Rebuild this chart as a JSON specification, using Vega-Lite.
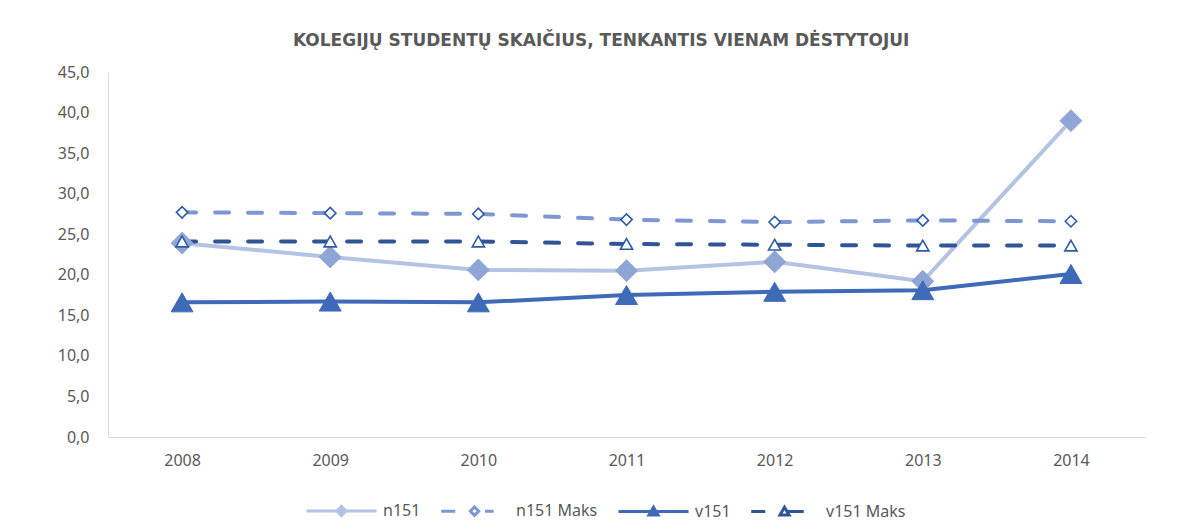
{
  "$schema": "https://vega.github.io/schema/vega-lite/v6.json",
  "width": 1037,
  "height": 365,
  "autosize": {"type": "none"},
  "padding": {"left": 108, "top": 72, "right": 35, "bottom": 92},
  "background": "white",
  "title": {
    "text": "KOLEGIJŲ STUDENTŲ SKAIČIUS, TENKANTIS VIENAM DĖSTYTOJUI",
    "font": "DejaVu Sans",
    "fontSize": 17,
    "fontWeight": "bold",
    "color": "#595959",
    "anchor": "middle",
    "frame": "bounds",
    "offset": 14
  },
  "data": {
    "values": [
      {"year": "2008", "series": "n151", "value": 23.9},
      {"year": "2009", "series": "n151", "value": 22.2},
      {"year": "2010", "series": "n151", "value": 20.6},
      {"year": "2011", "series": "n151", "value": 20.5},
      {"year": "2012", "series": "n151", "value": 21.6},
      {"year": "2013", "series": "n151", "value": 19.2},
      {"year": "2014", "series": "n151", "value": 39.0},
      {"year": "2008", "series": "n151 Maks", "value": 27.7},
      {"year": "2009", "series": "n151 Maks", "value": 27.6},
      {"year": "2010", "series": "n151 Maks", "value": 27.5},
      {"year": "2011", "series": "n151 Maks", "value": 26.8},
      {"year": "2012", "series": "n151 Maks", "value": 26.5},
      {"year": "2013", "series": "n151 Maks", "value": 26.7},
      {"year": "2014", "series": "n151 Maks", "value": 26.6},
      {"year": "2008", "series": "v151", "value": 16.6},
      {"year": "2009", "series": "v151", "value": 16.7},
      {"year": "2010", "series": "v151", "value": 16.6},
      {"year": "2011", "series": "v151", "value": 17.5},
      {"year": "2012", "series": "v151", "value": 17.9},
      {"year": "2013", "series": "v151", "value": 18.1},
      {"year": "2014", "series": "v151", "value": 20.1},
      {"year": "2008", "series": "v151 Maks", "value": 24.1},
      {"year": "2009", "series": "v151 Maks", "value": 24.1},
      {"year": "2010", "series": "v151 Maks", "value": 24.1},
      {"year": "2011", "series": "v151 Maks", "value": 23.8},
      {"year": "2012", "series": "v151 Maks", "value": 23.7},
      {"year": "2013", "series": "v151 Maks", "value": 23.6},
      {"year": "2014", "series": "v151 Maks", "value": 23.6}
    ]
  },
  "encoding": {
    "x": {
      "field": "year",
      "type": "ordinal",
      "scale": {"type": "point", "padding": 0.5},
      "axis": {
        "title": null,
        "labelAngle": 0,
        "labelFont": "Noto Sans",
        "labelFontSize": 16,
        "labelColor": "#595959",
        "labelPadding": 15,
        "ticks": false,
        "domainColor": "#d9d9d9",
        "domainWidth": 1
      }
    },
    "y": {
      "field": "value",
      "type": "quantitative",
      "scale": {"domain": [0, 45], "nice": false, "zero": true},
      "axis": {
        "title": null,
        "values": [0, 5, 10, 15, 20, 25, 30, 35, 40, 45],
        "labelExpr": "replace(format(datum.value, '.1f'), '.', ',')",
        "labelFont": "Noto Sans",
        "labelFontSize": 16,
        "labelColor": "#595959",
        "labelPadding": 19,
        "ticks": false,
        "grid": false,
        "domainColor": "#d9d9d9",
        "domainWidth": 1
      }
    }
  },
  "layer": [
    {
      "transform": [{"filter": "datum.series === 'n151' || datum.series === 'v151'"}],
      "mark": {"type": "line", "strokeWidth": 4, "strokeCap": "round", "strokeJoin": "round"},
      "encoding": {
        "color": {
          "field": "series",
          "type": "nominal",
          "scale": {
            "domain": ["n151", "n151 Maks", "v151", "v151 Maks"],
            "range": ["#b4c2e3", "#7d97d3", "#3f6ab8", "#2f5597"]
          },
          "legend": {
            "title": null,
            "orient": "none",
            "direction": "horizontal",
            "columns": 4,
            "legendX": 197,
            "legendY": 402,
            "symbolSize": 4900,
            "symbolStrokeWidth": 3,
            "labelFont": "Noto Sans",
            "labelFontSize": 16,
            "labelColor": "#595959",
            "labelOffset": 5,
            "columnPadding": 14,
            "encode": {
              "symbols": {
                "update": {
                  "shape": {"signal": "datum.value === 'n151' ? 'M-1,0L1,0M0,-0.13L0.13,0L0,0.13L-0.13,0Z' : datum.value === 'n151 Maks' ? 'M-0.95,0L-0.55,0M0.3,0L0.55,0M0,-0.12L0.12,0L0,0.12L-0.12,0Z' : datum.value === 'v151' ? 'M-1,0L1,0M0,-0.12L0.13,0.1L-0.13,0.1Z' : 'M-0.95,0L-0.55,0M0.05,0L0.55,0M0,-0.12L0.13,0.1L-0.13,0.1Z'"},
                  "fill": {"signal": "datum.value === 'n151' ? '#8fa5d6' : datum.value === 'v151' ? '#3f6ab8' : 'white'"},
                  "stroke": {"signal": "datum.value === 'n151' ? '#b4c2e3' : datum.value === 'n151 Maks' ? '#7d97d3' : datum.value === 'v151' ? '#3f6ab8' : '#2f5597'"},
                  "strokeDash": {"value": []},
                  "strokeWidth": {"value": 3},
                  "opacity": {"value": 1}
                }
              }
            }
          }
        }
      }
    },
    {
      "transform": [{"filter": "datum.series === 'n151 Maks' || datum.series === 'v151 Maks'"}],
      "mark": {"type": "line", "strokeWidth": 4, "strokeCap": "round", "strokeJoin": "round", "strokeDash": [14, 19]},
      "encoding": {
        "color": {"field": "series", "type": "nominal"}
      }
    },
    {
      "transform": [{"filter": "datum.series === 'n151'"}],
      "mark": {"type": "point", "shape": "diamond", "size": 480, "filled": true, "opacity": 1, "fill": "#8fa5d6", "stroke": "#8fa5d6", "strokeWidth": 1}
    },
    {
      "transform": [{"filter": "datum.series === 'n151 Maks'"}],
      "mark": {"type": "point", "shape": "diamond", "size": 130, "filled": true, "opacity": 1, "fill": "white", "stroke": "#2f5aa8", "strokeWidth": 1.6}
    },
    {
      "transform": [{"filter": "datum.series === 'v151'"}],
      "mark": {"type": "point", "shape": "triangle-up", "size": 480, "filled": true, "opacity": 1, "fill": "#3f6ab8", "stroke": "#3f6ab8", "strokeWidth": 1}
    },
    {
      "transform": [{"filter": "datum.series === 'v151 Maks'"}],
      "mark": {"type": "point", "shape": "triangle-up", "size": 150, "filled": true, "opacity": 1, "fill": "white", "stroke": "#2f5aa8", "strokeWidth": 1.6}
    }
  ],
  "config": {
    "view": {"stroke": null}
  }
}
